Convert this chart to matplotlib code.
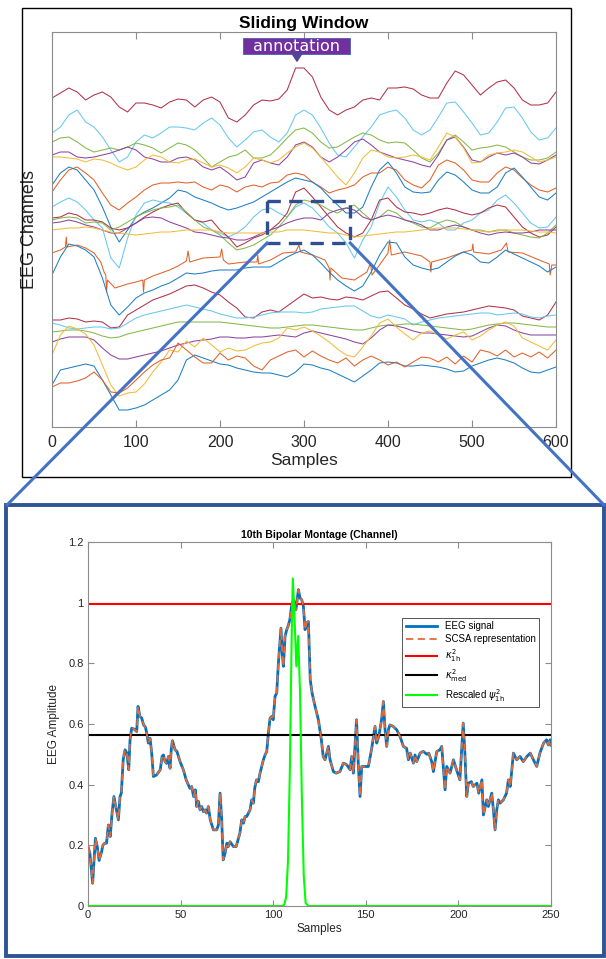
import numpy as np
import matplotlib
matplotlib.use("Agg")
import matplotlib.pyplot as plt
from matplotlib.patches import Rectangle, FancyArrowPatch
from matplotlib.lines import Line2D
from matplotlib.ticker import FuncFormatter

plt.rcParams["font.family"] = ["Liberation Sans", "DejaVu Sans"]
plt.rcParams["mathtext.fontset"] = "dejavusans"

# ---- top panel data: 21 stacked eeg channels (offset units, top = small) ----
grid = np.arange(0, 601, 10)

ch01 = [98, 93, 88, 92, 100, 95, 92, 97, 107, 112, 103, 103, 105, 108, 102, 99, 100, 107, 100, 97,
        102, 118, 122, 115, 105, 100, 101, 99, 90, 68, 68, 77, 97, 110, 115, 110, 107, 100, 98, 100,
        88, 88, 87, 89, 95, 98, 98, 83, 71, 75, 85, 95, 88, 82, 80, 88, 100, 105, 105, 103, 92]
ch02 = [133, 127, 115, 110, 122, 127, 137, 150, 162, 157, 142, 135, 138, 133, 127, 127, 128, 130, 123, 118,
        125, 138, 147, 140, 132, 130, 137, 142, 133, 115, 110, 115, 128, 143, 155, 157, 147, 137, 127, 115,
        112, 110, 118, 130, 135, 130, 117, 103, 102, 112, 123, 135, 133, 122, 108, 107, 118, 132, 140, 138, 128]
ch03 = [142, 138, 137, 142, 148, 152, 150, 148, 150, 147, 143, 145, 148, 153, 148, 143, 145, 150, 158, 167,
        162, 157, 155, 150, 158, 158, 155, 147, 138, 130, 128, 133, 142, 148, 147, 142, 137, 133, 135, 140,
        143, 142, 143, 150, 158, 162, 153, 140, 135, 142, 150, 148, 147, 145, 147, 152, 157, 160, 160, 158, 152]
ch04 = [155, 152, 152, 157, 158, 157, 155, 153, 150, 147, 150, 157, 159, 162, 162, 158, 157, 160, 167, 170,
        167, 173, 180, 177, 163, 160, 163, 165, 157, 145, 142, 147, 157, 162, 157, 150, 142, 139, 145, 152,
        155, 158, 160, 162, 165, 167, 155, 140, 137, 147, 160, 162, 157, 153, 155, 153, 157, 163, 164, 160, 155]
ch05 = [157, 157, 158, 159, 162, 159, 160, 163, 167, 170, 167, 160, 155, 157, 162, 163, 160, 159, 163, 167,
        165, 168, 173, 167, 158, 160, 163, 160, 153, 147, 143, 148, 157, 167, 177, 185, 173, 158, 150, 152,
        157, 158, 157, 155, 157, 160, 147, 133, 137, 148, 163, 162, 155, 153, 152, 150, 152, 157, 162, 160, 157]
ch06 = [192, 180, 170, 167, 173, 180, 193, 205, 210, 203, 197, 190, 185, 183, 183, 182, 183, 182, 187, 190,
        185, 187, 192, 187, 185, 187, 183, 182, 175, 173, 175, 182, 187, 193, 190, 188, 185, 177, 173, 173,
        167, 170, 180, 185, 188, 180, 165, 160, 163, 170, 180, 182, 182, 173, 167, 170, 178, 185, 190, 192, 188]
ch07 = [185, 173, 167, 170, 180, 190, 207, 227, 242, 230, 217, 212, 208, 203, 198, 190, 192, 197, 200, 203,
        207, 210, 208, 205, 202, 197, 192, 187, 182, 178, 180, 182, 188, 197, 205, 213, 213, 207, 187, 170,
        162, 173, 187, 192, 193, 192, 180, 172, 175, 182, 190, 193, 193, 187, 173, 168, 177, 187, 197, 200, 193]
ch08 = [207, 202, 198, 202, 210, 220, 228, 258, 268, 238, 215, 203, 200, 202, 203, 207, 213, 220, 223, 230,
        233, 237, 233, 227, 217, 210, 208, 213, 217, 207, 203, 208, 217, 227, 233, 243, 258, 240, 227, 203,
        187, 197, 210, 220, 222, 220, 223, 230, 230, 223, 220, 213, 210, 200, 195, 203, 213, 223, 228, 227, 217]
ch09 = [218, 217, 213, 215, 220, 220, 222, 228, 230, 228, 223, 217, 212, 208, 205, 203, 213, 220, 222, 220,
        230, 237, 247, 243, 238, 235, 230, 223, 213, 192, 188, 197, 207, 217, 227, 233, 237, 233, 220, 200,
        198, 207, 212, 213, 215, 213, 210, 208, 210, 213, 215, 213, 208, 205, 207, 217, 227, 233, 237, 235, 227]
ch10 = [220, 218, 217, 218, 223, 222, 223, 230, 227, 222, 217, 213, 210, 208, 207, 205, 212, 220, 227, 230,
        235, 243, 250, 248, 245, 240, 235, 227, 217, 205, 200, 202, 205, 210, 213, 208, 205, 213, 220, 217,
        210, 213, 220, 223, 227, 228, 223, 220, 222, 227, 230, 230, 232, 230, 230, 233, 235, 237, 238, 233, 225]
ch11 = [223, 222, 220, 222, 225, 227, 230, 233, 233, 228, 223, 218, 217, 218, 222, 225, 228, 232, 233, 235,
        237, 238, 240, 240, 237, 233, 230, 227, 223, 220, 218, 218, 220, 213, 210, 208, 210, 217, 220, 217,
        215, 217, 220, 222, 225, 230, 230, 227, 225, 227, 230, 233, 235, 233, 232, 233, 233, 232, 230, 230, 230]
ch12 = [230, 229, 228, 228, 227, 228, 230, 232, 233, 234, 235, 234, 233, 232, 232, 231, 230, 230, 230, 230,
        232, 233, 233, 233, 233, 233, 232, 232, 230, 230, 230, 231, 232, 233, 233, 235, 237, 236, 235, 234,
        233, 232, 232, 231, 230, 229, 228, 228, 228, 229, 230, 231, 232, 231, 230, 230, 230, 231, 232, 232, 233]
# channel 13 has ecg-like spikes, so it keeps its own sample positions
ch13_samples = [0, 10, 16, 17, 18, 30, 40, 50, 58, 62, 64, 65, 66, 75, 90, 100, 108, 109, 110, 120,
                140, 150, 160, 162, 164, 180, 200, 202, 204, 210, 230, 244, 245, 246, 260, 275, 290, 294, 296, 310,
                325, 330, 331, 332, 345, 360, 375, 379, 381, 390, 400, 402, 404, 420, 440, 450, 451, 452, 470, 490,
                500, 501, 502, 520, 535, 541, 543, 560, 580, 592, 593, 595, 600]
ch13 = [253, 250, 247, 237, 247, 245, 248, 253, 262, 272, 275, 292, 280, 288, 284, 282, 280, 292, 280, 276,
        270, 266, 261, 251, 262, 258, 257, 249, 260, 264, 262, 262, 255, 264, 260, 253, 252, 245, 252, 255,
        260, 268, 280, 268, 278, 280, 272, 263, 275, 265, 253, 240, 255, 252, 256, 262, 272, 262, 258, 252,
        250, 244, 252, 254, 250, 243, 252, 253, 260, 264, 275, 265, 265]
ch14 = [275, 257, 244, 246, 250, 257, 278, 305, 315, 307, 298, 293, 290, 286, 283, 278, 273, 274, 273, 271,
        270, 270, 270, 268, 267, 267, 267, 262, 257, 253, 250, 255, 263, 272, 280, 286, 291, 286, 272, 255,
        242, 243, 257, 265, 268, 270, 268, 262, 256, 252, 255, 262, 263, 257, 250, 254, 258, 262, 266, 272, 267]
ch15 = [320, 320, 318, 319, 322, 321, 322, 328, 327, 315, 310, 305, 300, 297, 294, 290, 286, 285, 288, 292,
        295, 302, 308, 317, 318, 312, 310, 312, 306, 300, 294, 298, 297, 299, 300, 297, 298, 300, 296, 292,
        291, 298, 305, 309, 314, 318, 316, 314, 313, 312, 310, 308, 306, 307, 308, 310, 316, 318, 320, 315, 302]
ch16 = [323, 325, 328, 329, 328, 327, 327, 329, 328, 323, 318, 315, 313, 311, 309, 307, 305, 307, 309, 311,
        314, 316, 318, 318, 317, 315, 313, 312, 312, 312, 313, 312, 309, 308, 307, 306, 306, 311, 316, 318,
        315, 317, 319, 325, 322, 320, 318, 317, 316, 315, 314, 313, 313, 315, 314, 313, 314, 317, 318, 316, 315]
ch17 = [332, 331, 330, 330, 331, 333, 336, 338, 337, 334, 332, 330, 328, 326, 324, 322, 322, 322, 322, 322,
        322, 323, 324, 325, 326, 327, 328, 328, 327, 326, 325, 325, 326, 327, 328, 329, 330, 330, 328, 326,
        325, 325, 324, 324, 325, 326, 327, 328, 329, 330, 329, 327, 325, 324, 323, 323, 324, 325, 326, 327, 327]
ch18 = [342, 339, 337, 337, 337, 340, 348, 355, 359, 359, 357, 355, 353, 351, 348, 345, 343, 341, 340, 339,
        337, 337, 338, 338, 337, 337, 336, 335, 336, 337, 333, 331, 333, 335, 337, 339, 342, 344, 338, 330,
        325, 326, 328, 331, 333, 333, 334, 335, 336, 337, 336, 332, 328, 325, 326, 330, 333, 335, 335, 335, 335]
ch19 = [355, 335, 326, 329, 334, 345, 365, 385, 396, 393, 392, 384, 372, 362, 350, 352, 341, 347, 338, 345,
        352, 348, 351, 350, 346, 343, 342, 338, 328, 330, 327, 331, 336, 342, 349, 355, 357, 347, 336, 323,
        319, 327, 334, 340, 333, 331, 335, 339, 335, 332, 340, 336, 330, 325, 322, 326, 338, 342, 346, 350, 340]
ch20 = [385, 370, 368, 366, 364, 366, 380, 395, 410, 410, 408, 405, 400, 395, 390, 380, 360, 355, 358, 361,
        364, 365, 368, 370, 372, 373, 373, 375, 377, 372, 364, 365, 368, 370, 374, 378, 382, 376, 370, 363,
        362, 363, 366, 366, 365, 366, 367, 369, 372, 371, 366, 363, 360, 358, 360, 363, 368, 372, 373, 370, 367]
ch21 = [387, 383, 383, 381, 378, 372, 380, 392, 393, 388, 380, 372, 365, 360, 358, 343, 350, 357, 363, 363,
        353, 360, 356, 358, 366, 370, 360, 356, 352, 350, 357, 351, 356, 360, 363, 358, 366, 360, 356, 360,
        365, 362, 367, 362, 357, 358, 362, 357, 364, 356, 362, 350, 352, 356, 350, 357, 353, 357, 352, 358, 350]

# matlab default line colours (the reference looks a touch washed out)
c_blue, c_orange, c_yellow, c_purple = "#1f7fc4", "#e0622a", "#f2bb3a", "#8c45a0"
c_green, c_lblue, c_red = "#85b848", "#66c8f0", "#b0324a"

channels = [
    (grid, ch01, c_red), (grid, ch02, c_lblue), (grid, ch03, c_green), (grid, ch04, c_purple),
    (grid, ch05, c_yellow), (grid, ch06, c_orange), (grid, ch07, c_blue), (grid, ch08, c_lblue),
    (grid, ch09, c_red), (grid, ch10, c_green), (grid, ch11, c_purple), (grid, ch12, c_yellow),
    (ch13_samples, ch13, c_orange), (grid, ch14, c_blue), (grid, ch15, c_red), (grid, ch16, c_lblue),
    (grid, ch17, c_green), (grid, ch18, c_purple), (grid, ch19, c_yellow), (grid, ch20, c_blue),
    (grid, ch21, c_orange),
]

# sliding window (samples / offset units)
window_start, window_end = 256, 355
window_top, window_bottom = 201, 243

# ---- bottom panel data: one channel inside the window ----
eeg_samples = [0, 1, 2.5, 4, 5, 6, 7.4, 8, 9, 10, 11, 12, 13, 14, 15, 16.4, 17.3, 18, 19, 20,
               21, 22, 22.7, 23.6, 25, 26.3, 27, 28, 29, 30, 31, 31.7, 32.6, 33.5, 34.4, 35.3, 37, 39, 40, 40.7,
               41.6, 42.5, 43.4, 44.3, 45, 45.6, 47, 48, 49.7, 51.5, 53, 55, 56, 57, 58, 58.7, 59.6, 60.5, 61.4, 62.3,
               63.2, 64, 65, 66, 67.7, 69.5, 70.4, 71.3, 72.2, 73, 74, 75, 75.8, 76.7, 78.5, 80, 82, 83, 84, 84.8,
               85.7, 87.5, 88.4, 89.3, 90, 91, 92, 92.9, 93.8, 94.7, 95.6, 96.5, 97.4, 98.3, 99.2, 100, 101, 101.9, 102.8, 103.7,
               104.2, 105, 105.5, 106.4, 107.3, 108, 109, 110, 111, 112.3, 113.6, 114.5, 115.4, 116.3, 117.2, 118, 119, 120, 121, 122.6,
               124.4, 126, 127, 128, 128.9, 129.8, 130.7, 132.5, 134, 136, 137.9, 139.7, 141.5, 142.4, 143.3, 145, 146, 146.9, 147.8, 149.6,
               151.4, 153.2, 155, 155.9, 157, 158.5, 159.5, 160.4, 161.3, 162.2, 163, 164.8, 166.7, 168.5, 170.3, 172, 173, 174, 175.7, 176.6,
               177.5, 179.3, 181, 183, 184, 185.6, 186.5, 188.3, 190, 191, 192.8, 193.7, 195.5, 197.3, 199, 200.8, 202.6, 203.5, 204.5, 205.4,
               207, 208, 210, 211, 212.7, 213.5, 215.3, 216.2, 218, 218.9, 219.8, 220.7, 221.6, 222.5, 224.3, 226, 227, 228, 229.7, 231.5,
               233.3, 235, 237, 238.8, 240.5, 242.3, 244, 246, 247.6, 248.5, 249.5, 250]
eeg_values = [0.196, 0.174, 0.075, 0.223, 0.196, 0.150, 0.180, 0.200, 0.207, 0.207, 0.267, 0.229, 0.306, 0.361, 0.328, 0.284, 0.361, 0.372, 0.482, 0.515,
              0.504, 0.449, 0.548, 0.586, 0.583, 0.575, 0.658, 0.625, 0.620, 0.597, 0.590, 0.570, 0.537, 0.553, 0.504, 0.427, 0.432, 0.449, 0.493, 0.498,
              0.476, 0.470, 0.493, 0.454, 0.520, 0.545, 0.515, 0.510, 0.476, 0.449, 0.416, 0.388, 0.394, 0.361, 0.383, 0.328, 0.345, 0.317, 0.328, 0.311,
              0.317, 0.306, 0.328, 0.284, 0.251, 0.251, 0.267, 0.372, 0.284, 0.152, 0.174, 0.207, 0.196, 0.212, 0.196, 0.196, 0.240, 0.284, 0.273, 0.295,
              0.295, 0.317, 0.350, 0.339, 0.388, 0.416, 0.410, 0.438, 0.460, 0.482, 0.498, 0.509, 0.570, 0.619, 0.625, 0.614, 0.691, 0.702, 0.801, 0.878,
              0.916, 0.823, 0.790, 0.889, 0.911, 0.922, 0.944, 0.993, 1.010, 0.977, 1.043, 1.015, 1.010, 0.988, 0.911, 0.933, 0.938, 0.746, 0.702, 0.658,
              0.614, 0.548, 0.493, 0.482, 0.504, 0.526, 0.482, 0.443, 0.438, 0.443, 0.471, 0.466, 0.449, 0.493, 0.438, 0.614, 0.460, 0.361, 0.460, 0.460,
              0.460, 0.520, 0.592, 0.537, 0.559, 0.614, 0.674, 0.581, 0.526, 0.581, 0.597, 0.592, 0.581, 0.559, 0.526, 0.520, 0.482, 0.504, 0.471, 0.498,
              0.476, 0.504, 0.510, 0.500, 0.504, 0.476, 0.443, 0.509, 0.515, 0.526, 0.383, 0.460, 0.438, 0.482, 0.449, 0.416, 0.603, 0.504, 0.361, 0.405,
              0.410, 0.394, 0.405, 0.372, 0.416, 0.300, 0.350, 0.328, 0.372, 0.317, 0.251, 0.317, 0.350, 0.339, 0.350, 0.372, 0.416, 0.394, 0.504, 0.482,
              0.493, 0.476, 0.493, 0.504, 0.482, 0.460, 0.504, 0.537, 0.548, 0.531, 0.548, 0.530]
# scsa reconstruction follows the signal almost exactly
scsa_values = list(eeg_values)

kappa_1h = 0.997
kappa_med = 0.565

psi_samples = [0, 105, 106, 107, 108, 109, 110, 110.6, 111.5, 112.5, 113.5, 114.5, 115.5, 116.5, 117.5, 119, 250]
psi_values = [0, 0, 0.005, 0.03, 0.15, 0.45, 0.90, 1.08, 0.95, 0.79, 0.89, 0.70, 0.35, 0.10, 0.01, 0, 0]

# ---- figure, laid out in pixels ----
W, H = 606, 959
fig = plt.figure(figsize=(W / 100, H / 100), dpi=100)


def fx(x):
    return x / W


def fy(y):
    return 1 - y / H


axis_grey = "#8c8c8c"
text_grey = "#262626"

# top panel
ax1 = fig.add_axes([fx(52), fy(427), (556 - 52) / W, (427 - 32) / H])
for xs, ys, col in channels:
    ax1.plot(xs, ys, color=col, lw=0.75)
ax1.set_xlim(0, 600)
ax1.set_ylim(427, 32)
ax1.set_yticks([])
ax1.set_xticks(np.arange(0, 601, 100))
ax1.tick_params(axis="x", direction="in", top=True, length=5, labelsize=11.5,
                colors=axis_grey, labelcolor=text_grey, pad=6)
for sp in ax1.spines.values():
    sp.set_color(axis_grey)
    sp.set_linewidth(0.8)
ax1.set_title("Sliding Window", fontsize=12.5, fontweight="bold", pad=3)
ax1.set_xlabel("Samples", fontsize=12.5, color=text_grey, labelpad=2)
ax1.set_ylabel("EEG Channels", fontsize=13, color=text_grey, labelpad=10)

ax1.add_patch(Rectangle((window_start, window_top), window_end - window_start,
                        window_bottom - window_top, fill=False, edgecolor="#2F4F8F",
                        lw=2.4, ls=(0, (4, 2.5)), zorder=5, clip_on=False))

# frame round the top panel
fig.add_artist(Rectangle((fx(22), fy(477)), (571 - 22) / W, (477 - 8) / H, fill=False,
                         edgecolor="black", lw=1.0, transform=fig.transFigure))

# annotation label + arrow
fig.add_artist(Rectangle((fx(243), fy(54)), (350 - 243) / W, (54 - 38) / H, facecolor="#7030A0",
                         edgecolor="#4a5fa8", lw=0.6, transform=fig.transFigure, zorder=6))
fig.text(fx(296.5), fy(46.5), "annotation", color="white", fontsize=11.5,
         ha="center", va="center", zorder=7, family=["DejaVu Sans"])
fig.add_artist(FancyArrowPatch((fx(297), fy(53)), (fx(297), fy(64)), transform=fig.transFigure,
                               arrowstyle="simple,head_width=0.9,head_length=0.7,tail_width=0.35",
                               mutation_scale=9, color="#55439b", zorder=7))

# bottom panel
ax2 = fig.add_axes([fx(88), fy(906), (551 - 88) / W, (906 - 542) / H])
ax2.plot(eeg_samples, eeg_values, color="#0072BD", lw=2.0, label="EEG signal", zorder=2)
ax2.plot(eeg_samples, scsa_values, color="#E06A3A", lw=1.3, ls=(0, (4, 2.5)),
         label="SCSA representation", zorder=3)
ax2.axhline(kappa_1h, color="#FF0000", lw=1.5, label=r"$\kappa^{2}_{\rm 1h}$")
ax2.axhline(kappa_med, color="black", lw=1.5, label=r"$\kappa^{2}_{\rm med}$")
ax2.plot(psi_samples, psi_values, color="#00FF00", lw=1.5, label=r"Rescaled $\psi^{2}_{\rm 1h}$", zorder=4)
ax2.set_xlim(0, 250)
ax2.set_ylim(0, 1.2)
ax2.set_xticks(np.arange(0, 251, 50))
ax2.set_yticks(np.arange(0, 1.21, 0.2))
ax2.yaxis.set_major_formatter(FuncFormatter(lambda v, p: f"{v:g}"))
ax2.tick_params(direction="in", top=True, right=True, length=4, labelsize=8,
                colors=axis_grey, labelcolor=text_grey, pad=3)
for sp in ax2.spines.values():
    sp.set_color(axis_grey)
    sp.set_linewidth(0.8)
ax2.set_title("10th Bipolar Montage (Channel)", fontsize=7.5, fontweight="bold", pad=3)
ax2.set_xlabel("Samples", fontsize=8.5, color=text_grey, labelpad=2)
ax2.set_ylabel("EEG Amplitude", fontsize=8.5, color=text_grey, labelpad=6)
leg = ax2.legend(loc="upper right", bbox_to_anchor=(0.974, 0.791), fontsize=7, handlelength=3.2,
                 fancybox=False, framealpha=1, edgecolor="#555555", borderaxespad=0,
                 labelspacing=0.3, borderpad=0.35)
leg.get_frame().set_linewidth(0.7)

# zoom frame and the connecting lines
fig.add_artist(Rectangle((fx(6), fy(956)), (604 - 6) / W, (956 - 505) / H, fill=False,
                         edgecolor="#2F5597", lw=2.8, transform=fig.transFigure, zorder=8))
to_fig = ax1.transData + fig.transFigure.inverted()
p_left = to_fig.transform((window_start, window_bottom))
p_right = to_fig.transform((window_end, window_bottom))
for p, q in [(p_left, (fx(7), fy(505))), (p_right, (fx(604), fy(505)))]:
    fig.add_artist(Line2D([p[0], q[0]], [p[1], q[1]], color="#4472C4", lw=2.2,
                          transform=fig.transFigure, zorder=9))

fig.savefig("out.png", dpi=100)
